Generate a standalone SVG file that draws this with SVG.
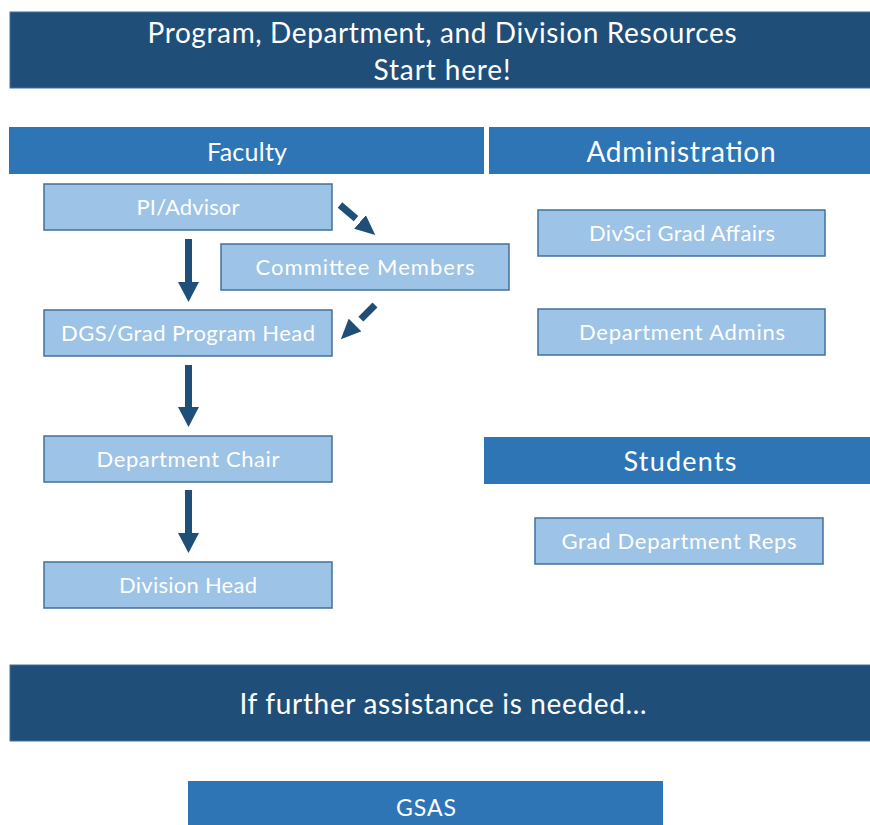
<svg xmlns="http://www.w3.org/2000/svg" width="870" height="825" viewBox="0 0 870 825">
<style>
text{font-family:"Lato","Open Sans","Liberation Sans",sans-serif;fill:#fff;text-anchor:middle}
.dark{fill:#1F4E79;stroke:#41719C;stroke-width:1}
.mid{fill:#2E75B6}
.node{fill:#9DC3E6;stroke:#41719C;stroke-width:1.5}
.nt{font-size:22px}
.conn{stroke:#1F4E79;stroke-width:7;fill:none}
</style>
<defs>
<marker id="ah" markerUnits="userSpaceOnUse" viewBox="0 0 20 21" markerWidth="20" markerHeight="21" refX="0" refY="10.5" orient="auto">
<path d="M0,0 L20,10.5 L0,21 Z" fill="#1F4E79"/>
</marker>
<marker id="ahs" markerUnits="userSpaceOnUse" viewBox="0 0 20 18" markerWidth="20" markerHeight="18" refX="0" refY="9" orient="auto">
<path d="M0,0 L20,9 L0,18 Z" fill="#1F4E79"/>
</marker>
</defs>
<g id="header-top">
<rect class="dark" x="10" y="12" width="862" height="76"/>
<text x="442" y="43" font-size="28" textLength="589">Program, Department, and Division Resources</text>
<text x="442" y="80" font-size="28" textLength="137">Start here!</text>
</g>
<g id="header-faculty">
<rect class="mid" x="9" y="127" width="475" height="47"/>
<text x="247" y="161" font-size="25" textLength="80">Faculty</text>
</g>
<g id="header-administration">
<rect class="mid" x="489" y="127" width="383" height="47"/>
<text x="681" y="162" font-size="28" textLength="189">Administration</text>
</g>
<g id="node-pi">
<rect class="node" x="44" y="184" width="288" height="46"/>
<text class="nt" x="188" y="215" textLength="103">PI/Advisor</text>
</g>
<g id="node-committee">
<rect class="node" x="221" y="244" width="288" height="46"/>
<text class="nt" x="365" y="275" textLength="219">Committee Members</text>
</g>
<g id="node-dgs">
<rect class="node" x="44" y="310" width="288" height="46"/>
<text class="nt" x="188" y="341" textLength="254">DGS/Grad Program Head</text>
</g>
<g id="node-chair">
<rect class="node" x="44" y="436" width="288" height="46"/>
<text class="nt" x="188" y="467" textLength="183">Department Chair</text>
</g>
<g id="node-division">
<rect class="node" x="44" y="562" width="288" height="46"/>
<text class="nt" x="188" y="593" textLength="138">Division Head</text>
</g>
<g id="node-divsci">
<rect class="node" x="538" y="210" width="287" height="46"/>
<text class="nt" x="682" y="241" textLength="186">DivSci Grad Affairs</text>
</g>
<g id="node-deptadmins">
<rect class="node" x="538" y="309" width="287" height="46"/>
<text class="nt" x="682" y="340" textLength="206">Department Admins</text>
</g>
<g id="header-students">
<rect class="mid" x="484" y="437" width="388" height="47"/>
<text x="680" y="471" font-size="27" textLength="113">Students</text>
</g>
<g id="node-reps">
<rect class="node" x="535" y="518" width="288" height="46"/>
<text class="nt" x="679" y="549" textLength="235">Grad Department Reps</text>
</g>
<g id="header-further">
<rect class="dark" x="10" y="665" width="862" height="76"/>
<text x="443" y="714" font-size="28" textLength="407">If further assistance is needed…</text>
</g>
<g id="node-gsas">
<rect class="mid" x="188" y="781" width="475" height="50"/>
<text x="426" y="816" font-size="23" textLength="60">GSAS</text>
</g>
<g id="connectors">
<line class="conn" x1="188.5" y1="239" x2="188.5" y2="282" marker-end="url(#ah)"/>
<line class="conn" x1="188.5" y1="365" x2="188.5" y2="407" marker-end="url(#ah)"/>
<line class="conn" x1="188.5" y1="490" x2="188.5" y2="533" marker-end="url(#ah)"/>
<line class="conn" x1="340" y1="205" x2="360" y2="222" stroke-dasharray="21 6" marker-end="url(#ahs)"/>
<line class="conn" x1="375" y1="305" x2="355" y2="325" stroke-dasharray="20 9" marker-end="url(#ahs)"/>
</g>
</svg>
